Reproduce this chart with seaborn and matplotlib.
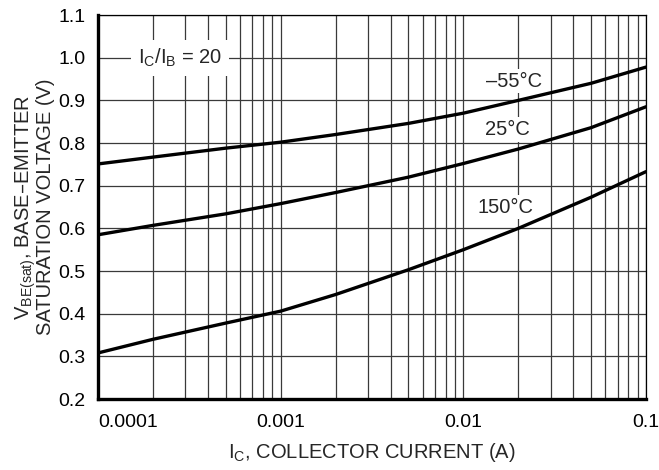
import numpy as np
import pandas as pd
import matplotlib
matplotlib.use("Agg")
import matplotlib.pyplot as plt
import seaborn as sns

# collector current (A) and base-emitter saturation voltage (V), Ic/Ib = 20
ic = [1e-4, 2e-4, 5e-4, 1e-3, 2e-3, 5e-3, 1e-2, 2e-2, 5e-2, 1e-1]
v_m55 = [0.751, 0.767, 0.788, 0.802, 0.820, 0.846, 0.870, 0.900, 0.940, 0.978]
v_25 = [0.585, 0.607, 0.634, 0.658, 0.684, 0.720, 0.752, 0.786, 0.836, 0.885]
v_150 = [0.308, 0.340, 0.378, 0.406, 0.445, 0.503, 0.550, 0.600, 0.673, 0.733]

temps = ["–55°C", "25°C", "150°C"]
label_x = [0.019, 0.0175, 0.017]
label_y = [0.945, 0.831, 0.650]

x_ticks = [0.0001, 0.001, 0.01, 0.1]
x_ticklabels = ["0.0001", "0.001", "0.01", "0.1"]
y_ticks = [0.2, 0.3, 0.4, 0.5, 0.6, 0.7, 0.8, 0.9, 1.0, 1.1]

df = pd.DataFrame({
    "ic": ic * 3,
    "v": v_m55 + v_25 + v_150,
    "temp": [temps[0]] * len(ic) + [temps[1]] * len(ic) + [temps[2]] * len(ic),
})

sns.set_style("white")
plt.rcParams["font.family"] = ["Liberation Sans", "DejaVu Sans"]
plt.rcParams["mathtext.default"] = "regular"

fig = plt.figure(figsize=(6.59, 4.70), dpi=100)
ax = fig.add_axes([0.1487, 0.151, 0.8316, 0.817])

sns.lineplot(data=df, x="ic", y="v", hue="temp", palette=["black"] * 3,
             linewidth=2.4, legend=False, ax=ax, zorder=3)

ax.set_xscale("log")
ax.set_xlim(1e-4, 0.1)
ax.set_ylim(0.2, 1.1)
ax.set_yticks(y_ticks)
ax.set_yticklabels([f"{t:.1f}" for t in y_ticks])
ax.set_xticks(x_ticks)
ax.set_xticklabels(x_ticklabels)
ax.get_xticklabels()[0].set_horizontalalignment("left")

ax.grid(True, which="both", color="#3a3a3a", linewidth=0.9)
ax.tick_params(which="both", length=0, labelsize=14, colors="black")
ax.tick_params(axis="y", pad=9)
ax.tick_params(axis="x", pad=11)

for s in ["left", "bottom"]:
    ax.spines[s].set_linewidth(2.4)
for s in ["top", "right"]:
    ax.spines[s].set_linewidth(0.9)
for s in ax.spines.values():
    s.set_color("black")
    s.set_zorder(4)

box = dict(facecolor="white", edgecolor="none", pad=2)
for t, x, y in zip(temps, label_x, label_y):
    ax.text(x, y, t, fontsize=14.5, ha="center", va="center", bbox=box, zorder=2)

ax.text(2.8e-4, 1.0, "$I_C/I_B$ = 20", fontsize=14.5, ha="center", va="center",
        bbox=dict(facecolor="white", edgecolor="none", pad=5), zorder=2)

ax.set_xlabel("$I_C$, COLLECTOR CURRENT (A)", fontsize=14.5, labelpad=7)
ax.set_ylabel("$V_{BE(sat)}$, BASE–EMITTER\nSATURATION VOLTAGE (V)",
              fontsize=14.5, labelpad=2, linespacing=0.9)

fig.savefig("out.png", dpi=100)
